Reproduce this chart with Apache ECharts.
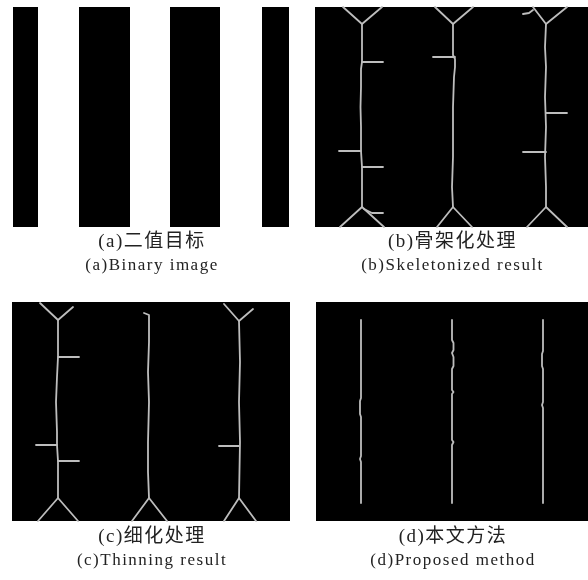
<!DOCTYPE html>
<html>
<head>
<meta charset="utf-8">
<script src="https://cdn.jsdelivr.net/npm/echarts@6/dist/echarts.min.js"></script>
<style>
  html, body { margin: 0; padding: 0; background: #fff; }
  #chart { width: 588px; height: 580px; }
</style>
</head>
<body>
<div id="chart"></div>
<script>
// Panel captions (Chinese / English)
const captionsCn = ['(a)二值目标', '(b)骨架化处理', '(c)细化处理', '(d)本文方法'];
const captionsEn = ['(a)Binary image', '(b)Skeletonized result', '(c)Thinning result', '(d)Proposed method'];

// Image sizes of each panel, in image pixels [width, height]
const panelSizes = [[276, 220], [273, 220], [278, 219], [272, 219]];

// (a) black stripe column ranges [x0, x1] of the binary image
const binaryStripes = [[0, 25], [66, 117], [157, 207], [249, 276]];

// (b) skeleton polylines, image pixel coordinates [x, y]
const skeletonPaths = [
  [[47, 17], [47, 55], [46, 62], [46, 80], [45.5, 100], [46, 120], [46, 144], [47, 160], [47, 200]],
  [[28, 0], [47, 17], [67, 0]],
  [[25, 220], [47, 200], [69, 220]],
  [[47, 55], [68, 55]],
  [[24, 144], [46, 144]],
  [[47, 160], [68, 160]],
  [[49, 202], [57, 206], [68, 206]],
  [[138, 17], [138, 48], [140, 52], [140, 60], [139, 70], [138, 100], [138, 150], [137, 180], [138, 200]],
  [[120, 0], [138, 17], [158, 0]],
  [[122, 220], [138, 200], [157, 220]],
  [[118, 50], [140, 50]],
  [[231, 17], [230, 40], [231, 60], [230, 90], [231, 120], [230, 150], [231, 180], [231, 200]],
  [[218, 0], [231, 17], [252, 0]],
  [[208, 7], [214, 6], [218, 3]],
  [[212, 220], [231, 200], [252, 220]],
  [[231, 106], [252, 106]],
  [[208, 145], [231, 145]]
];

// (c) thinning polylines
const thinningPaths = [
  [[46, 18], [46, 55], [45, 75], [44, 100], [45, 130], [45, 143], [46, 159], [46, 196]],
  [[28, 1], [46, 18], [61, 5]],
  [[46, 55], [67, 55]],
  [[24, 143], [45, 143]],
  [[46, 159], [67, 159]],
  [[26, 219], [46, 196], [66, 219]],
  [[132, 11], [137, 13], [137, 40], [136, 70], [137, 100], [136, 140], [136, 170], [137, 196]],
  [[120, 219], [137, 196], [155, 219]],
  [[227, 19], [228, 60], [227, 100], [228, 140], [227, 196]],
  [[212, 2], [227, 19], [241, 7]],
  [[207, 144], [227, 144]],
  [[212, 219], [227, 196], [244, 219]]
];

// (d) proposed method polylines
const proposedPaths = [
  [[45, 18], [45, 96], [44, 99], [44, 112], [45, 115], [45, 154], [44, 157], [45, 160], [45, 201]],
  [[136, 18], [136, 38], [137.5, 41], [137.5, 48], [136, 51], [137.5, 55], [137.5, 64], [136, 67], [136, 88],
   [137.5, 90], [136, 92], [136, 138], [137.5, 140], [136, 143], [136, 201]],
  [[227, 18], [227, 49], [226, 52], [226, 64], [227, 67], [227, 100], [226, 103], [227, 106], [227, 201]]
];

// Layout of the four panels on the page
const panelBoxes = [
  { left: 13, top: 7 },
  { left: 315, top: 7 },
  { left: 12, top: 302 },
  { left: 316, top: 302 }
];
const captionRows = [[242, 266], [242, 266], [537, 561]];

// Captions are typeset with wide tracking: give every 2D canvas context letter spacing.
const baseGetContext = HTMLCanvasElement.prototype.getContext;
HTMLCanvasElement.prototype.getContext = function (type, opts) {
  const ctx = baseGetContext.call(this, type, opts);
  if (type === '2d' && ctx && 'letterSpacing' in ctx) ctx.letterSpacing = '1.5px';
  return ctx;
};

const chart = echarts.init(document.getElementById('chart'), null, { renderer: 'canvas' });

const grids = panelBoxes.map((b, i) => ({
  left: b.left, top: b.top,
  width: panelSizes[i][0], height: panelSizes[i][1],
  show: true,
  backgroundColor: i === 0 ? '#ffffff' : '#000000',
  borderWidth: 0
}));
const xAxes = panelSizes.map((s, i) => ({
  type: 'value', gridIndex: i, min: 0, max: s[0], show: false
}));
const yAxes = panelSizes.map((s, i) => ({
  type: 'value', gridIndex: i, min: 0, max: s[1], inverse: true, show: false
}));

const lineStyle = { color: '#bdbdbd', width: 1.8, opacity: 1, cap: 'round', join: 'round' };
function pathSeries(paths, idx) {
  return {
    type: 'lines',
    coordinateSystem: 'cartesian2d',
    xAxisIndex: idx, yAxisIndex: idx,
    polyline: true,
    silent: true,
    lineStyle: lineStyle,
    data: paths.map(p => ({ coords: p }))
  };
}

const series = [
  {
    type: 'custom',
    xAxisIndex: 0, yAxisIndex: 0,
    silent: true,
    data: binaryStripes,
    renderItem: function (params, api) {
      const p0 = api.coord([api.value(0), 0]);
      const p1 = api.coord([api.value(1), panelSizes[0][1]]);
      return {
        type: 'rect',
        shape: { x: p0[0], y: p0[1], width: p1[0] - p0[0], height: p1[1] - p0[1] },
        style: { fill: '#000000' }
      };
    }
  },
  pathSeries(skeletonPaths, 1),
  pathSeries(thinningPaths, 2),
  pathSeries(proposedPaths, 3)
];

const fontFamily = '"Liberation Serif", "Noto Sans CJK SC", serif';
const graphics = [];
panelBoxes.forEach((b, i) => {
  const cx = b.left + panelSizes[i][0] / 2 + 1;
  const rows = i < 2 ? captionRows[0] : captionRows[2];
  graphics.push({
    type: 'text', x: cx, y: rows[0], silent: true,
    style: { text: captionsCn[i], x: 0, y: 0, textAlign: 'center', textVerticalAlign: 'middle',
             fill: '#222', font: '19px ' + fontFamily }
  });
  graphics.push({
    type: 'text', x: cx, y: rows[1], silent: true,
    style: { text: captionsEn[i], x: 0, y: 0, textAlign: 'center', textVerticalAlign: 'middle',
             fill: '#222', font: '17px ' + fontFamily }
  });
});

chart.setOption({
  backgroundColor: '#ffffff',
  animation: false,
  grid: grids,
  xAxis: xAxes,
  yAxis: yAxes,
  series: series,
  graphic: graphics
});
</script>
</body>
</html>
